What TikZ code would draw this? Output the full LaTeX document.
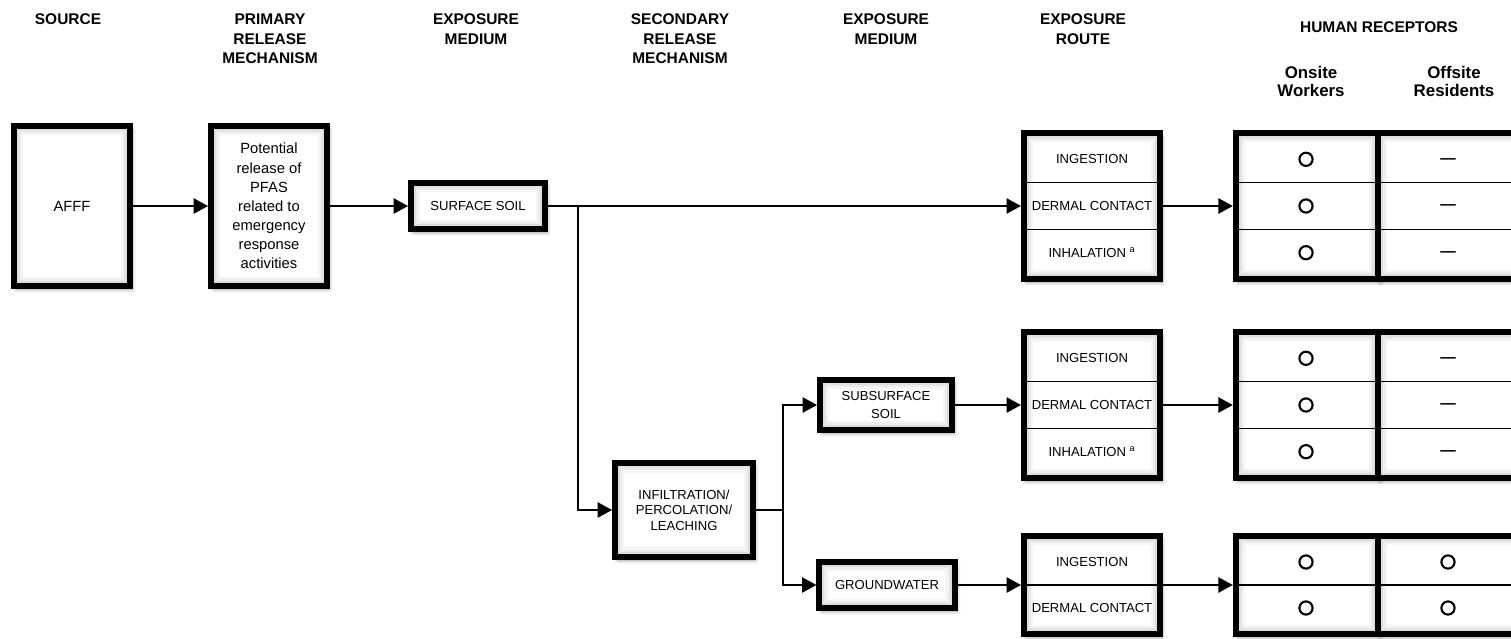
\documentclass[tikz,border=0pt]{standalone}
\usepackage{fontspec}
\setmainfont{Liberation Sans}
\usetikzlibrary{arrows.meta,shadows.blur}

\begin{document}
\begin{tikzpicture}[
    x=0.025cm, y=-0.025cm,
    line width=1.3pt,
    >={Triangle[length=3.6mm,width=3.8mm]},
    hdr/.style={anchor=north, align=center, inner sep=0pt, font=\bfseries\fontsize{11}{13.9}\selectfont},
    subhdr/.style={hdr, font=\bfseries\fontsize{12}{12.8}\selectfont},
    box/.style={draw, line width=4.2pt, fill=white, align=center, inner sep=2pt,
        font=\fontsize{9.3}{11}\selectfont,
        blur shadow={shadow xshift=0.6mm, shadow yshift=-0.9mm, shadow blur radius=0.9mm, shadow opacity=40},
        path picture={
            \draw[black!4, line width=13pt] (path picture bounding box.south west) rectangle (path picture bounding box.north east);
            \draw[black!8, line width=10pt] (path picture bounding box.south west) rectangle (path picture bounding box.north east);
            \draw[black!13, line width=7pt] (path picture bounding box.south west) rectangle (path picture bounding box.north east);}},
    cell/.style={minimum width=3.55cm, minimum height=1.167cm, inner sep=0pt, outer sep=0pt, font=\fontsize{9.3}{11}\selectfont},
    divider/.style={line width=1pt},
    opencirc/.style={circle, draw, line width=1.5pt, minimum size=0.33cm, inner sep=0pt},
    nodash/.style={anchor=mid, inner sep=0pt, font=\bfseries\fontsize{11}{13}\selectfont}
]
\useasboundingbox (0,0) rectangle (1511,638);

\node[hdr] (hsrc) at (68,13) {SOURCE};
\node[hdr] (hprim) at (270,13) {PRIMARY\\RELEASE\\MECHANISM};
\node[hdr] (hmed1) at (476,13) {EXPOSURE\\MEDIUM};
\node[hdr] (hsec) at (680,13) {SECONDARY\\RELEASE\\MECHANISM};
\node[hdr] (hmed2) at (886,13) {EXPOSURE\\MEDIUM};
\node[hdr] (hroute) at (1083,13) {EXPOSURE\\ROUTE};
\node[hdr] (hhum) at (1379,21) {HUMAN RECEPTORS};
\node[subhdr] (hon) at (1311,65) {Onsite\\Workers};
\node[subhdr] (hoff) at (1454,65) {Offsite\\Residents};

\node[box, minimum width=2.9cm, minimum height=4cm, font=\fontsize{10.5}{13.6}\selectfont] (afff) at (72,206) {AFFF};
\node[box, minimum width=2.9cm, minimum height=4cm, font=\fontsize{10.5}{13.6}\selectfont] (pfas) at (269,206) {Potential\\release of\\PFAS\\related to\\emergency\\response\\activities};
\node[box, minimum width=3.35cm, minimum height=1.15cm] (ssoil) at (478,206) {SURFACE SOIL};
\node[box, minimum width=3.45cm, minimum height=2.33cm] (infil) at (684,510) {INFILTRATION/\\PERCOLATION/\\LEACHING};
\node[box, minimum width=3.3cm, minimum height=1.25cm, font=\fontsize{9.3}{13.5}\selectfont] (sub) at (886,405) {SUBSURFACE\\SOIL};
\node[box, minimum width=3.38cm, minimum height=1.15cm] (gw) at (887,585) {GROUNDWATER};

\node[box, minimum width=3.4cm, minimum height=3.65cm] (rt1) at (1092,206) {};
\node[cell] (rt1i) at (1092,159.3) {INGESTION};
\node[cell] (rt1d) at (1092,206) {DERMAL CONTACT};
\node[cell] (rt1h) at (1092,252.7) {INHALATION \textsuperscript{a}};
\draw[divider] (rt1i.south west) -- (rt1i.south east);
\draw[divider] (rt1d.south west) -- (rt1d.south east);

\node[box, minimum width=3.4cm, minimum height=3.65cm] (rt2) at (1092,405) {};
\node[cell] (rt2i) at (1092,358.3) {INGESTION};
\node[cell] (rt2d) at (1092,405) {DERMAL CONTACT};
\node[cell] (rt2h) at (1092,451.7) {INHALATION \textsuperscript{a}};
\draw[divider] (rt2i.south west) -- (rt2i.south east);
\draw[divider] (rt2d.south west) -- (rt2d.south east);

\node[box, minimum width=3.4cm, minimum height=2.45cm] (rt3) at (1092,585) {};
\node[cell, minimum height=1.15cm] (rt3i) at (1092,562) {INGESTION};
\node[cell, minimum height=1.15cm] (rt3d) at (1092,608) {DERMAL CONTACT};
\draw[divider] (rt3i.south west) -- (rt3i.south east);

\node[box, minimum width=3.56cm, minimum height=3.65cm] (on1) at (1307,206) {};
\node[box, minimum width=3.79cm, minimum height=3.65cm] (off1) at (1454,206) {};
\draw[divider] (on1.west |- rt1i.south) -- (off1.east |- rt1i.south);
\draw[divider] (on1.west |- rt1d.south) -- (off1.east |- rt1d.south);
\node[opencirc] (c1a) at (1306,159.3) {};
\node[opencirc] (c1b) at (1306,206) {};
\node[opencirc] (c1c) at (1306,252.7) {};
\node[nodash] (d1a) at (1448,159.3) {—};
\node[nodash] (d1b) at (1448,206) {—};
\node[nodash] (d1c) at (1448,252.7) {—};

\node[box, minimum width=3.56cm, minimum height=3.65cm] (on2) at (1307,405) {};
\node[box, minimum width=3.79cm, minimum height=3.65cm] (off2) at (1454,405) {};
\draw[divider] (on2.west |- rt2i.south) -- (off2.east |- rt2i.south);
\draw[divider] (on2.west |- rt2d.south) -- (off2.east |- rt2d.south);
\node[opencirc] (c2a) at (1306,358.3) {};
\node[opencirc] (c2b) at (1306,405) {};
\node[opencirc] (c2c) at (1306,451.7) {};
\node[nodash] (d2a) at (1448,358.3) {—};
\node[nodash] (d2b) at (1448,405) {—};
\node[nodash] (d2c) at (1448,451.7) {—};

\node[box, minimum width=3.56cm, minimum height=2.45cm] (on3) at (1307,585) {};
\node[box, minimum width=3.79cm, minimum height=2.45cm] (off3) at (1454,585) {};
\draw[divider] (on3.west |- rt3i.south) -- (off3.east |- rt3i.south);
\node[opencirc] (c3a) at (1306,562) {};
\node[opencirc] (c3b) at (1306,608) {};
\node[opencirc] (c3c) at (1448,562) {};
\node[opencirc] (c3d) at (1448,608) {};

\coordinate (br1) at (578,206);
\coordinate (br2) at (783,510);

\draw[->] (afff) -- (pfas);
\draw[->] (pfas) -- (ssoil);
\draw[->] (ssoil) -- (rt1d);
\draw[->] (br1) |- (infil);
\draw (infil) -- (br2);
\draw[->] (br2) |- (sub);
\draw[->] (br2) |- (gw);
\draw[->] (sub) -- (rt2d);
\draw[->] (gw) -- (rt3);
\draw[->] (rt1d) -- (on1);
\draw[->] (rt2d) -- (on2);
\draw[->] (rt3) -- (on3);
\end{tikzpicture}
\end{document}
